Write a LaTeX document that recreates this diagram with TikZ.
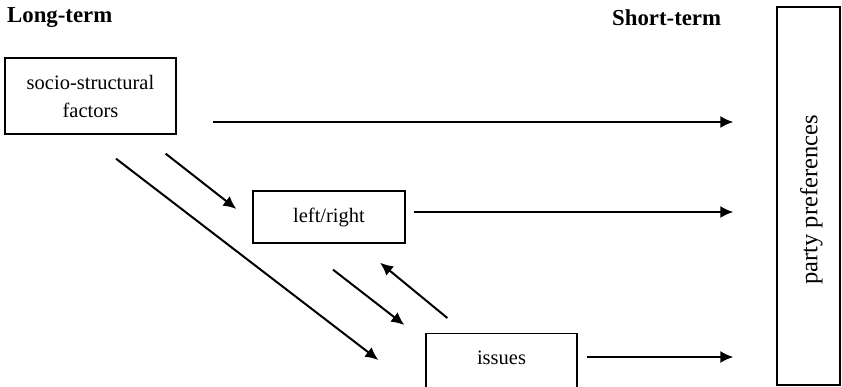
\documentclass[tikz,border=0pt]{standalone}
\usepackage{fontspec}
\setmainfont{Liberation Serif}
\usetikzlibrary{positioning,calc,arrows.meta}

\begin{document}
\begin{tikzpicture}[
x=1pt,y=-1pt,
box/.style={
  draw,
  line width=1.3pt,
  align=center,
  inner sep=0pt,
  font=\fontsize{20.5}{28}\selectfont
  },
hdr/.style={
  anchor=west,
  inner sep=0pt,
  font=\fontsize{22.8}{26}\selectfont\bfseries
  },
ar/.style={
  -{Latex[length=13pt,width=12pt]},
  line width=2pt
  }
]

\useasboundingbox (0,0) rectangle (842,386);

%The headings
\node[hdr] (long) at (7,18)
  {Long-term};
\node[hdr] (short) at (612,18)
  {Short-term};

%The boxes
\node[box,minimum width=171pt,minimum height=76pt] (socio) at (90.5,96)
  {socio-structural\\factors};
\node[box,minimum width=152pt,minimum height=52pt] (lr) at (329,217)
  {left/right};
\node[box,minimum width=151pt,minimum height=64pt,anchor=north] (iss) at (501.5,333)
  {\raisebox{16pt}{issues}};
\node[box,minimum width=63pt,minimum height=378pt,font=\fontsize{24.5}{28}\selectfont] (party) at (808.5,196)
  {\hspace*{6pt}\raisebox{-4pt}[\height][\depth]{\rotatebox{90}{party preferences}}};

%Aux
\coordinate (s1) at ( $ (socio.east)+(36,26) $ );
\coordinate (e1) at ( $ (party.west|-s1)+(-43,0) $ );
\coordinate (s2) at ( $ (lr.east)+(8,-5) $ );
\coordinate (e2) at ( $ (party.west|-s2)+(-43,0) $ );
\coordinate (s3) at ( $ (iss.north east)+(9,24) $ );
\coordinate (e3) at ( $ (party.west|-s3)+(-43,0) $ );
\coordinate (d1s) at ( $ (socio.south east)+(-11,19) $ );
\coordinate (d1e) at ( $ (lr.west)+(-16,-8) $ );
\coordinate (d2s) at ( $ (socio.south)+(25.5,24) $ );
\coordinate (d2e) at ( $ (iss.north west)+(-47,27) $ );
\coordinate (d3s) at ( $ (lr.south)+(4,26) $ );
\coordinate (d3e) at ( $ (iss.north west)+(-21,-8) $ );
\coordinate (d4s) at ( $ (iss.north west)+(22,-15) $ );
\coordinate (d4e) at ( $ (lr.south)+(51,19) $ );

\draw[ar]  (s1) -- (e1);
\draw[ar]  (s2) -- (e2);
\draw[ar]  (s3) -- (e3);
\draw[ar]  (d1s) -- (d1e);
\draw[ar]  (d2s) -- (d2e);
\draw[ar]  (d3s) -- (d3e);
\draw[ar]  (d4s) -- (d4e);

\end{tikzpicture}
\end{document}
